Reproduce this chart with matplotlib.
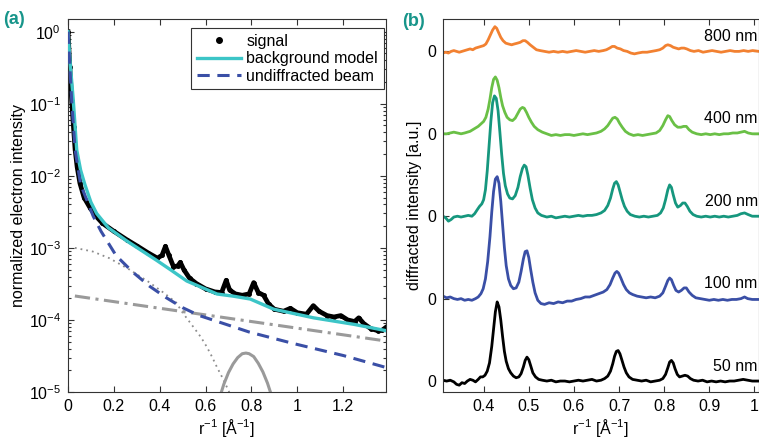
import numpy as np
import matplotlib
matplotlib.use("Agg")
import matplotlib.pyplot as plt
from matplotlib.lines import Line2D
from matplotlib.ticker import FixedLocator, FuncFormatter, LogLocator, NullFormatter

plt.rcParams['font.family'] = ['Liberation Sans', 'DejaVu Sans']
plt.rcParams['mathtext.fontset'] = 'custom'
plt.rcParams['mathtext.rm'] = 'Liberation Sans'
plt.rcParams['mathtext.it'] = 'Liberation Sans:italic'
plt.rcParams['mathtext.bf'] = 'Liberation Sans:bold'

# ---------------- panel (a) data ----------------
signal_x = [0.000, 0.008, 0.016, 0.024, 0.031, 0.040, 0.052, 0.070, 0.096, 0.120,
            0.150, 0.200, 0.256, 0.300, 0.350, 0.390, 0.410, 0.425, 0.440, 0.460,
            0.478, 0.490, 0.505, 0.530, 0.560, 0.600, 0.640, 0.670, 0.690, 0.705,
            0.730, 0.760, 0.790, 0.810, 0.830, 0.853, 0.875, 0.900, 0.940, 0.970,
            1.000, 1.040, 1.070, 1.095, 1.130, 1.160, 1.190, 1.220, 1.250, 1.268,
            1.290, 1.320, 1.350, 1.370, 1.387]
signal_y = [1.0, 0.32, 0.11, 0.047, 0.023, 0.0132, 0.0079, 0.0050, 0.0036, 0.0028,
            0.0022, 0.0017, 0.0013, 0.00107, 0.00085, 0.00072, 0.00079, 0.00105, 0.00079, 0.00055,
            0.00056, 0.00063, 0.00050, 0.00038, 0.00032, 0.00027, 0.000245, 0.00024, 0.000355, 0.00026,
            0.00023, 0.00022, 0.00023, 0.00033, 0.00024, 0.00022, 0.000166, 0.000141, 0.000132, 0.000145,
            0.000126, 0.00012, 0.000158, 0.000132, 0.000115, 0.00011, 0.000115, 0.0001, 0.000095, 0.000107,
            0.000089, 0.000076, 0.000071, 0.000072, 0.000079]

background_x = [0.0, 0.010, 0.023, 0.038, 0.055, 0.074, 0.100, 0.125, 0.176, 0.256,
                0.387, 0.450, 0.518, 0.650, 0.720, 0.795, 0.897, 1.071, 1.246, 1.387]
background_y = [1.0, 0.35, 0.112, 0.0229, 0.0120, 0.0075, 0.0043, 0.0030, 0.0019, 0.00125,
                0.00067, 0.00049, 0.000347, 0.000229, 0.000214, 0.000195, 0.000141, 0.000107,
                0.000087, 0.000071]

beam_x = [0.0, 0.008, 0.016, 0.031, 0.055, 0.110, 0.144, 0.210, 0.283, 0.355,
          0.428, 0.500, 0.573, 0.661, 0.790, 0.984, 1.202, 1.387]
beam_y = [1.0, 0.33, 0.112, 0.0229, 0.0076, 0.00275, 0.0017, 0.00078, 0.00046, 0.000295,
          0.000204, 0.000148, 0.000115, 0.000093, 0.000068, 0.000047, 0.000032, 0.0000219]

diffuse_x = [0.03, 1.387]
diffuse_y = [2.15e-4, 5.1e-5]

gauss1_x = [0.03, 0.108, 0.18, 0.268, 0.35, 0.42, 0.472, 0.50, 0.548, 0.58,
            0.606, 0.63, 0.65, 0.67, 0.693, 0.71]
gauss1_y = [1.0e-3, 8.9e-4, 7.2e-4, 5.0e-4, 3.4e-4, 2.35e-4, 1.74e-4, 1.26e-4, 7.9e-5, 5.75e-5,
            4.2e-5, 3.0e-5, 2.2e-5, 1.66e-5, 1.17e-5, 8.9e-6]

gauss2_x = [0.66, 0.68, 0.70, 0.72, 0.74, 0.76, 0.776, 0.79, 0.81, 0.83, 0.85, 0.87, 0.89]
gauss2_y = [8.1e-6, 1.29e-5, 1.86e-5, 2.45e-5, 3.0e-5, 3.4e-5, 3.47e-5, 3.4e-5, 3.1e-5,
            2.5e-5, 1.9e-5, 1.33e-5, 8.5e-6]

# ---------------- panel (b) data ----------------
s50_x = [0.310, 0.318, 0.326, 0.334, 0.340, 0.346, 0.352, 0.358, 0.364, 0.370, 0.376, 0.382,
         0.388, 0.393, 0.398, 0.403, 0.408, 0.413, 0.418, 0.422, 0.426, 0.430, 0.434, 0.438,
         0.442, 0.446, 0.450, 0.455, 0.460, 0.466, 0.472, 0.478, 0.483, 0.488, 0.492, 0.496,
         0.500, 0.504, 0.509, 0.515, 0.522, 0.530, 0.540, 0.550, 0.560, 0.570, 0.580, 0.590,
         0.600, 0.610, 0.620, 0.630, 0.640, 0.650, 0.660, 0.668, 0.675, 0.681, 0.686, 0.690,
         0.694, 0.698, 0.702, 0.706, 0.711, 0.716, 0.722, 0.730, 0.740, 0.750, 0.760, 0.770,
         0.780, 0.790, 0.797, 0.803, 0.808, 0.812, 0.816, 0.820, 0.824, 0.829, 0.834, 0.840,
         0.846, 0.852, 0.858, 0.865, 0.875, 0.885, 0.895, 0.905, 0.915, 0.925, 0.935, 0.945,
         0.955, 0.965, 0.975, 0.985, 0.995, 1.010]
s50_y = [0.01, 0.00, 0.01, -0.01, -0.04, -0.05, -0.02, -0.03, 0.00, 0.02, 0.01, -0.01,
         0.02, 0.05, 0.05, 0.07, 0.12, 0.22, 0.42, 0.63, 0.84, 0.96, 0.90, 0.74,
         0.54, 0.36, 0.24, 0.15, 0.10, 0.06, 0.04, 0.05, 0.09, 0.17, 0.25, 0.29,
         0.26, 0.19, 0.10, 0.05, 0.02, 0.01, 0.00, 0.01, -0.01, 0.00, 0.00, -0.01,
         0.00, 0.01, 0.00, 0.01, 0.02, 0.00, 0.01, 0.03, 0.06, 0.12, 0.21, 0.30,
         0.36, 0.37, 0.33, 0.26, 0.17, 0.10, 0.05, 0.02, 0.01, 0.00, 0.01, -0.01,
         0.00, 0.01, 0.03, 0.08, 0.16, 0.23, 0.25, 0.22, 0.15, 0.08, 0.05, 0.06,
         0.07, 0.06, 0.03, 0.01, 0.00, 0.01, -0.01, 0.00, -0.01, 0.00, -0.01, 0.00,
         0.00, 0.01, 0.02, 0.01, 0.00, 0.00]

s100_x = [0.310, 0.318, 0.326, 0.334, 0.342, 0.350, 0.358, 0.366, 0.374, 0.382, 0.388, 0.394,
          0.399, 0.404, 0.409, 0.414, 0.418, 0.422, 0.426, 0.430, 0.434, 0.438, 0.442, 0.446,
          0.450, 0.455, 0.460, 0.466, 0.472, 0.478, 0.483, 0.488, 0.492, 0.496, 0.500, 0.504,
          0.509, 0.514, 0.520, 0.527, 0.535, 0.545, 0.555, 0.565, 0.575, 0.585, 0.595, 0.605,
          0.615, 0.625, 0.635, 0.645, 0.655, 0.665, 0.673, 0.680, 0.686, 0.691, 0.695, 0.699,
          0.704, 0.710, 0.716, 0.723, 0.730, 0.740, 0.750, 0.760, 0.770, 0.780, 0.790, 0.797,
          0.803, 0.808, 0.812, 0.816, 0.821, 0.826, 0.832, 0.838, 0.844, 0.849, 0.855, 0.862,
          0.870, 0.880, 0.890, 0.900, 0.910, 0.920, 0.930, 0.940, 0.950, 0.960, 0.970, 0.978,
          0.985, 0.995, 1.010]
s100_y = [0.03, 0.01, 0.02, 0.00, -0.01, 0.00, -0.02, -0.01, -0.02, 0.00, 0.02, 0.06,
          0.12, 0.24, 0.45, 0.75, 1.05, 1.30, 1.45, 1.48, 1.40, 1.18, 0.90, 0.62,
          0.40, 0.24, 0.16, 0.12, 0.13, 0.20, 0.33, 0.48, 0.57, 0.58, 0.50, 0.36,
          0.20, 0.07, -0.02, -0.06, -0.07, -0.05, -0.06, -0.04, -0.05, -0.03, -0.03, -0.01,
          0.00, 0.02, 0.02, 0.04, 0.06, 0.08, 0.11, 0.17, 0.25, 0.31, 0.33, 0.31,
          0.25, 0.17, 0.11, 0.07, 0.05, 0.03, 0.02, 0.01, 0.02, 0.01, 0.03, 0.07,
          0.15, 0.22, 0.25, 0.23, 0.16, 0.10, 0.08, 0.10, 0.13, 0.13, 0.08, 0.04,
          0.01, 0.00, -0.01, -0.02, -0.01, -0.02, -0.01, -0.02, -0.01, -0.01, 0.00, 0.02,
          0.00, -0.01, -0.01]

s200_x = [0.310, 0.316, 0.322, 0.328, 0.334, 0.342, 0.350, 0.358, 0.366, 0.374, 0.380, 0.386,
          0.391, 0.396, 0.400, 0.404, 0.408, 0.412, 0.416, 0.420, 0.424, 0.428, 0.432, 0.436,
          0.440, 0.444, 0.448, 0.453, 0.458, 0.464, 0.470, 0.476, 0.481, 0.486, 0.490, 0.494,
          0.498, 0.503, 0.508, 0.514, 0.520, 0.528, 0.540, 0.550, 0.560, 0.570, 0.580, 0.590,
          0.600, 0.610, 0.620, 0.630, 0.640, 0.650, 0.660, 0.668, 0.675, 0.681, 0.686, 0.690,
          0.694, 0.698, 0.702, 0.707, 0.712, 0.718, 0.725, 0.735, 0.745, 0.755, 0.765, 0.775,
          0.785, 0.792, 0.798, 0.803, 0.808, 0.812, 0.816, 0.820, 0.825, 0.830, 0.836, 0.841,
          0.846, 0.851, 0.857, 0.864, 0.872, 0.882, 0.892, 0.902, 0.912, 0.922, 0.932, 0.942,
          0.952, 0.962, 0.970, 0.978, 0.986, 0.995, 1.010]
s200_y = [0.00, -0.02, -0.06, -0.04, -0.01, 0.00, -0.01, 0.00, 0.01, 0.00, 0.03, 0.08,
          0.12, 0.15, 0.20, 0.32, 0.55, 0.85, 1.15, 1.38, 1.46, 1.43, 1.28, 1.02,
          0.75, 0.52, 0.37, 0.27, 0.22, 0.21, 0.25, 0.35, 0.48, 0.58, 0.62, 0.60,
          0.50, 0.34, 0.20, 0.10, 0.04, 0.01, -0.01, 0.00, -0.02, -0.01, 0.00, -0.01,
          0.00, 0.01, 0.00, 0.01, 0.01, 0.02, 0.04, 0.07, 0.13, 0.22, 0.33, 0.40,
          0.42, 0.38, 0.30, 0.20, 0.12, 0.06, 0.02, 0.00, -0.01, 0.00, -0.01, 0.00,
          0.01, 0.04, 0.10, 0.20, 0.32, 0.38, 0.35, 0.26, 0.16, 0.11, 0.13, 0.16,
          0.16, 0.12, 0.06, 0.02, 0.00, -0.01, 0.00, -0.01, 0.00, -0.01, 0.00, -0.01,
          0.00, 0.01, 0.03, 0.04, 0.02, 0.00, 0.00]

s400_x = [0.310, 0.318, 0.326, 0.334, 0.342, 0.350, 0.358, 0.364, 0.370, 0.376, 0.382, 0.388,
          0.394, 0.400, 0.405, 0.410, 0.414, 0.418, 0.422, 0.426, 0.430, 0.434, 0.438, 0.442,
          0.447, 0.452, 0.458, 0.464, 0.470, 0.476, 0.481, 0.486, 0.490, 0.495, 0.500, 0.506,
          0.512, 0.520, 0.530, 0.540, 0.550, 0.560, 0.570, 0.580, 0.590, 0.600, 0.610, 0.620,
          0.630, 0.640, 0.650, 0.660, 0.668, 0.675, 0.681, 0.686, 0.691, 0.696, 0.701, 0.707,
          0.714, 0.722, 0.732, 0.742, 0.752, 0.762, 0.772, 0.782, 0.790, 0.797, 0.803, 0.808,
          0.812, 0.817, 0.823, 0.830, 0.837, 0.843, 0.849, 0.855, 0.862, 0.872, 0.882, 0.892,
          0.902, 0.912, 0.922, 0.932, 0.942, 0.952, 0.962, 0.970, 0.978, 0.986, 0.995, 1.010]
s400_y = [0.00, 0.00, 0.01, 0.02, 0.01, 0.00, 0.01, 0.02, 0.03, 0.05, 0.07, 0.09,
          0.12, 0.15, 0.20, 0.30, 0.42, 0.56, 0.66, 0.69, 0.65, 0.56, 0.44, 0.34,
          0.26, 0.20, 0.17, 0.16, 0.19, 0.25, 0.30, 0.32, 0.31, 0.26, 0.20, 0.14,
          0.09, 0.05, 0.02, 0.00, -0.02, -0.01, -0.02, -0.01, -0.01, -0.02, -0.01, 0.00,
          -0.01, 0.00, 0.01, 0.03, 0.06, 0.10, 0.15, 0.19, 0.20, 0.18, 0.13, 0.08,
          0.03, 0.00, -0.02, -0.01, -0.02, -0.01, 0.00, 0.01, 0.04, 0.10, 0.17, 0.22,
          0.21, 0.16, 0.11, 0.08, 0.08, 0.09, 0.09, 0.05, 0.02, 0.00, -0.01, 0.00,
          -0.01, 0.00, -0.01, 0.00, 0.00, 0.01, 0.01, 0.02, 0.03, 0.01, 0.00, 0.00]

s800_x = [0.310, 0.316, 0.322, 0.328, 0.334, 0.340, 0.346, 0.352, 0.358, 0.364, 0.370, 0.376,
          0.382, 0.388, 0.394, 0.400, 0.405, 0.410, 0.415, 0.420, 0.425, 0.429, 0.433, 0.438,
          0.443, 0.449, 0.455, 0.462, 0.468, 0.475, 0.481, 0.487, 0.492, 0.497, 0.503, 0.510,
          0.517, 0.525, 0.535, 0.545, 0.555, 0.565, 0.575, 0.585, 0.595, 0.605, 0.615, 0.625,
          0.635, 0.645, 0.655, 0.665, 0.672, 0.679, 0.685, 0.690, 0.696, 0.703, 0.710, 0.718,
          0.726, 0.734, 0.742, 0.752, 0.762, 0.772, 0.782, 0.790, 0.797, 0.803, 0.808, 0.814,
          0.820, 0.826, 0.832, 0.838, 0.844, 0.850, 0.858, 0.866, 0.876, 0.886, 0.896, 0.906,
          0.916, 0.926, 0.936, 0.946, 0.956, 0.966, 0.976, 0.986, 0.996, 1.010]
s800_y = [-0.02, -0.01, -0.02, 0.00, 0.01, 0.00, -0.01, 0.00, 0.01, 0.02, 0.03, 0.02,
          0.04, 0.05, 0.06, 0.07, 0.09, 0.14, 0.20, 0.26, 0.30, 0.28, 0.23, 0.17,
          0.13, 0.10, 0.09, 0.08, 0.09, 0.10, 0.11, 0.13, 0.13, 0.11, 0.08, 0.05,
          0.02, 0.01, 0.00, -0.01, 0.00, -0.01, 0.00, -0.01, 0.00, 0.01, 0.00, -0.01,
          0.00, 0.01, 0.00, 0.01, 0.02, 0.04, 0.06, 0.06, 0.04, 0.03, 0.01, 0.00,
          -0.02, -0.03, -0.02, -0.01, -0.01, 0.00, 0.01, 0.02, 0.04, 0.07, 0.08, 0.07,
          0.05, 0.04, 0.03, 0.04, 0.04, 0.03, 0.01, 0.00, 0.01, -0.01, 0.00, 0.01,
          0.00, -0.01, 0.00, 0.01, 0.00, 0.00, 0.01, 0.00, 0.01, 0.00]

thickness_labels = ['50 nm', '100 nm', '200 nm', '400 nm', '800 nm']
series_b = [(s50_x, s50_y), (s100_x, s100_y), (s200_x, s200_y), (s400_x, s400_y), (s800_x, s800_y)]
colors_b = ['#000000', '#3a4fa6', '#16977e', '#6ac046', '#f28131']

# ---------------- figure ----------------
W, H = 759, 444
fig = plt.figure(figsize=(W / 100, H / 100), dpi=100)

def rect(l, t, r, b):
    return [l / W, 1 - b / H, (r - l) / W, (b - t) / H]

FS = 11.5
spine_c = '#333333'
grey = '#9a9a9a'

ax1 = fig.add_axes(rect(68, 19, 386, 392))
ax1.set_yscale('log')
ax1.plot(gauss1_x, gauss1_y, color='#8c8c8c', lw=1.3, ls=(0, (1, 2.2)), zorder=1)
ax1.plot(diffuse_x, diffuse_y, color=grey, lw=2.2, ls=(0, (5, 1.8, 1, 1.8)), zorder=1)
ax1.plot(gauss2_x, gauss2_y, color=grey, lw=2.2, zorder=1)
ax1.plot(signal_x, signal_y, color='k', lw=3.4, marker='.', ms=5, zorder=2)
ax1.plot(background_x, background_y, color='#3cc5c7', lw=2.4, zorder=3)
ax1.plot(beam_x, beam_y, color='#3a4fa6', lw=2.2, ls=(0, (4, 2.5)), zorder=4)
ax1.set_xlim(0, 1.387)
ax1.set_ylim(1e-5, 1.5)
ax1.xaxis.set_major_locator(FixedLocator([0, 0.2, 0.4, 0.6, 0.8, 1.0, 1.2]))
ax1.xaxis.set_major_formatter(FuncFormatter(lambda v, p: '%g' % v))
ax1.yaxis.set_major_locator(LogLocator(base=10, numticks=10))
ax1.yaxis.set_minor_locator(LogLocator(base=10, subs=np.arange(2, 10), numticks=20))
ax1.yaxis.set_minor_formatter(NullFormatter())
ax1.tick_params(which='both', direction='in', top=True, right=True, width=0.8,
                labelsize=FS, colors=spine_c, labelcolor='k')
ax1.tick_params(which='major', length=4, pad=5)
ax1.tick_params(which='minor', length=2.5)
ax1.set_xlabel('r$^{-1}$ [Å$^{-1}$]', fontsize=FS, labelpad=2)
ax1.set_ylabel('normalized electron intensity', fontsize=FS, labelpad=2)
for s in ax1.spines.values():
    s.set_color(spine_c)
    s.set_linewidth(0.8)

handles = [Line2D([], [], color='k', marker='.', ls='none', ms=8),
           Line2D([], [], color='#3cc5c7', lw=2.4),
           Line2D([], [], color='#3a4fa6', lw=2.2, ls=(0, (4, 2.5)))]
leg = ax1.legend(handles, ['signal', 'background model', 'undiffracted beam'],
                 loc='upper right', bbox_to_anchor=((383.5 - 68) / 318, (392 - 28.5) / 373),
                 borderaxespad=0, fancybox=False, framealpha=1, edgecolor='#333333',
                 fontsize=FS, handlelength=2.8, handletextpad=0.3, labelspacing=0.15,
                 borderpad=0.35)
leg.get_frame().set_linewidth(0.8)

ax2 = fig.add_axes(rect(443, 19, 759, 392))
for k, ((xs, ys), c, lab) in enumerate(zip(series_b, colors_b, thickness_labels)):
    ax2.plot(xs, np.asarray(ys) + k, color=c, lw=2.0)
    ax2.text(1.007, k + 0.18, lab, fontsize=FS, ha='right', va='center')
ax2.set_xlim(0.31, 1.01)
ax2.set_ylim(-0.133, 4.393)
ax2.xaxis.set_major_locator(FixedLocator([0.4, 0.5, 0.6, 0.7, 0.8, 0.9, 1.0]))
ax2.xaxis.set_major_formatter(FuncFormatter(lambda v, p: '%g' % v))
ax2.set_yticks([0, 1, 2, 3, 4])
ax2.set_yticklabels(['0'] * 5)
ax2.tick_params(direction='in', top=True, right=True, length=4, width=0.8, pad=5,
                labelsize=FS, colors=spine_c, labelcolor='k')
ax2.set_xlabel('r$^{-1}$ [Å$^{-1}$]', fontsize=FS, labelpad=2)
ax2.set_ylabel('diffracted intensity [a.u.]', fontsize=FS, labelpad=4)
for s in ax2.spines.values():
    s.set_color(spine_c)
    s.set_linewidth(0.8)

teal = '#17958a'
fig.text(3 / W, 1 - 20 / H, '(a)', fontsize=13, fontweight='bold', color=teal, va='center', ha='left')
fig.text(402 / W, 1 - 22 / H, '(b)', fontsize=13, fontweight='bold', color=teal, va='center', ha='left')

fig.savefig('out.png', dpi=100, facecolor='white')
